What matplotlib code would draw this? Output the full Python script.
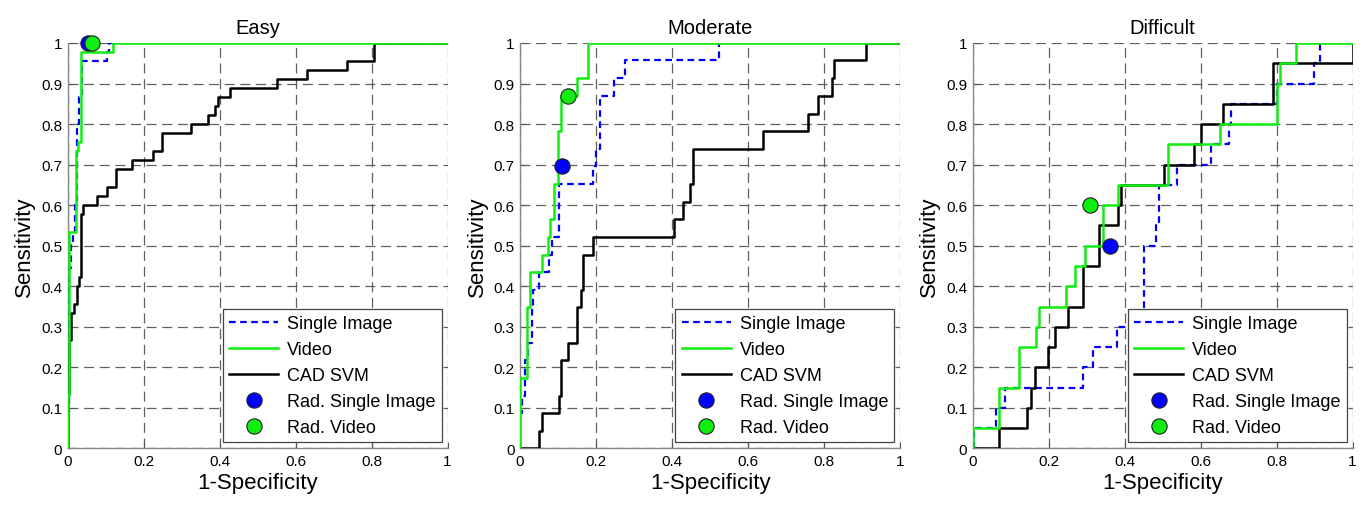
import matplotlib
matplotlib.use("Agg")
import matplotlib.pyplot as plt
from matplotlib.lines import Line2D

plt.rcParams['font.family'] = ['Liberation Sans', 'DejaVu Sans']

# panel titles
titles = ['Easy', 'Moderate', 'Difficult']

# ROC step points: fpr where tpr jumps, tpr after the jump
easy_single_fpr = [0, 0, 0.005, 0.009, 0.013, 0.02, 0.026, 0.031, 0.038, 0.103, 0.11, 1.0]
easy_single_tpr = [0, 0.089, 0.444, 0.511, 0.533, 0.6, 0.8, 0.867, 0.956, 0.978, 1.0, 1.0]
easy_video_fpr = [0, 0, 0.004, 0.022, 0.028, 0.035, 0.119, 1.0]
easy_video_tpr = [0, 0.133, 0.533, 0.733, 0.756, 0.978, 1.0, 1.0]
easy_cad_fpr = [0, 0, 0.003, 0.009, 0.018, 0.026, 0.031, 0.035, 0.04, 0.077, 0.103, 0.127,
                0.169, 0.224, 0.248, 0.326, 0.37, 0.388, 0.397, 0.428, 0.551, 0.63, 0.735, 0.806, 1.0]
easy_cad_tpr = [0, 0.133, 0.267, 0.333, 0.356, 0.4, 0.422, 0.578, 0.6, 0.622, 0.644, 0.689,
                0.711, 0.733, 0.778, 0.8, 0.822, 0.844, 0.867, 0.889, 0.911, 0.933, 0.956, 1.0, 1.0]

mod_single_fpr = [0, 0, 0.004, 0.013, 0.022, 0.031, 0.035, 0.051, 0.077, 0.083, 0.102, 0.192,
                  0.2, 0.21, 0.246, 0.276, 0.523, 1.0]
mod_single_tpr = [0, 0.087, 0.13, 0.217, 0.261, 0.348, 0.391, 0.435, 0.478, 0.522, 0.652, 0.696,
                  0.739, 0.87, 0.913, 0.957, 1.0, 1.0]
mod_video_fpr = [0, 0, 0.0175, 0.026, 0.057, 0.074, 0.08, 0.09, 0.1, 0.109, 0.151, 0.178, 1.0]
mod_video_tpr = [0, 0.174, 0.348, 0.435, 0.478, 0.522, 0.565, 0.652, 0.783, 0.87, 0.913, 1.0, 1.0]
mod_cad_fpr = [0, 0.051, 0.057, 0.102, 0.109, 0.125, 0.151, 0.16, 0.166, 0.192, 0.404, 0.429,
               0.446, 0.455, 0.639, 0.759, 0.785, 0.82, 0.827, 0.91, 1.0]
mod_cad_tpr = [0, 0.043, 0.087, 0.13, 0.217, 0.261, 0.348, 0.391, 0.478, 0.522, 0.565, 0.609,
               0.652, 0.739, 0.783, 0.826, 0.87, 0.913, 0.957, 1.0, 1.0]

diff_single_fpr = [0, 0.003, 0.062, 0.085, 0.29, 0.317, 0.38, 0.452, 0.482, 0.49, 0.539, 0.628,
                   0.674, 0.68, 0.80, 0.898, 0.915, 1.0]
diff_single_tpr = [0, 0.05, 0.1, 0.15, 0.2, 0.25, 0.3, 0.5, 0.55, 0.65, 0.7, 0.75,
                   0.8, 0.85, 0.9, 0.95, 1.0, 1.0]
diff_video_fpr = [0, 0, 0.07, 0.123, 0.167, 0.176, 0.246, 0.27, 0.296, 0.343, 0.382, 0.515,
                  0.65, 0.80, 0.81, 0.852, 1.0]
diff_video_tpr = [0, 0.05, 0.15, 0.25, 0.3, 0.35, 0.4, 0.45, 0.5, 0.6, 0.65, 0.75,
                  0.8, 0.9, 0.95, 1.0, 1.0]
diff_cad_fpr = [0, 0.07, 0.143, 0.154, 0.163, 0.198, 0.217, 0.25, 0.29, 0.333, 0.382, 0.39,
                0.504, 0.584, 0.6, 0.659, 0.79, 1.0]
diff_cad_tpr = [0, 0.05, 0.1, 0.15, 0.2, 0.25, 0.3, 0.35, 0.45, 0.55, 0.6, 0.65,
                0.7, 0.75, 0.8, 0.85, 0.95, 1.0]

# radiologist operating points (fpr, tpr)
rad_single = [(0.055, 1.0), (0.111, 0.696), (0.362, 0.5)]
rad_video = [(0.063, 1.0), (0.127, 0.87), (0.31, 0.6)]

curves = [
    (easy_single_fpr, easy_single_tpr, easy_video_fpr, easy_video_tpr, easy_cad_fpr, easy_cad_tpr),
    (mod_single_fpr, mod_single_tpr, mod_video_fpr, mod_video_tpr, mod_cad_fpr, mod_cad_tpr),
    (diff_single_fpr, diff_single_tpr, diff_video_fpr, diff_video_tpr, diff_cad_fpr, diff_cad_tpr),
]

xticks = [0, 0.2, 0.4, 0.6, 0.8, 1]
xticklabels = ['0', '0.2', '0.4', '0.6', '0.8', '1']
yticks = [i / 10 for i in range(11)]
yticklabels = ['0'] + ['0.%d' % i for i in range(1, 10)] + ['1']

BLUE = '#0000ff'
GREEN = '#10ee10'

fig = plt.figure(figsize=(13.65, 5.06), dpi=100)
lefts = [0.0495, 0.381, 0.7125]

for i, ax_left in enumerate(lefts):
    ax = fig.add_axes([ax_left, 0.1117, 0.2784, 0.8014])
    sf, st, vf, vt, cf, ct = curves[i]
    ax.plot(sf, st, drawstyle='steps-post', color=BLUE, lw=1.6, ls=(0, (3, 2)), zorder=3)
    ax.plot(vf, vt, drawstyle='steps-post', color=GREEN, lw=1.8, zorder=4)
    ax.plot(cf, ct, drawstyle='steps-post', color='black', lw=1.8, zorder=3)
    ax.plot(rad_single[i][0], rad_single[i][1], 'o', ms=11, mfc=BLUE, mec='#202020',
            mew=0.8, clip_on=False, zorder=5)
    ax.plot(rad_video[i][0], rad_video[i][1], 'o', ms=11, mfc=GREEN, mec='#202020',
            mew=0.8, clip_on=False, zorder=6)

    ax.set_xlim(0, 1)
    ax.set_ylim(0, 1)
    ax.set_xticks(xticks)
    ax.set_xticklabels(xticklabels)
    ax.set_yticks(yticks)
    ax.set_yticklabels(yticklabels)
    ax.tick_params(direction='in', length=4, width=0.8, color='#555555', labelsize=11, pad=4)
    ax.grid(True, color='#606060', lw=0.9, ls=(0, (8, 4.5)))
    for side in ['top', 'right']:
        ax.spines[side].set_visible(False)
    for side in ['left', 'bottom']:
        ax.spines[side].set_color('#888888')
        ax.spines[side].set_linewidth(1.0)

    ax.set_title(titles[i], fontsize=14.5, pad=7)
    ax.set_xlabel('1-Specificity', fontsize=16, labelpad=3)
    ax.set_ylabel('Sensitivity', fontsize=16, labelpad=4)

    handles = [
        Line2D([], [], color=BLUE, lw=1.6, ls=(0, (3, 2))),
        Line2D([], [], color=GREEN, lw=1.8),
        Line2D([], [], color='black', lw=1.8),
        Line2D([], [], ls='none', marker='o', ms=11, mfc=BLUE, mec='#202020', mew=0.8),
        Line2D([], [], ls='none', marker='o', ms=11, mfc=GREEN, mec='#202020', mew=0.8),
    ]
    labels = ['Single Image', 'Video', 'CAD SVM', 'Rad. Single Image', 'Rad. Video']
    leg = ax.legend(handles, labels, loc='lower right', bbox_to_anchor=(0.985, 0.015),
                    borderaxespad=0, fontsize=13, handlelength=2.7, handletextpad=0.5,
                    labelspacing=0.5, borderpad=0.35, fancybox=False, framealpha=1,
                    edgecolor='#444444')
    leg.get_frame().set_linewidth(0.9)
    leg.set_zorder(10)

fig.savefig('out.png', dpi=100)
